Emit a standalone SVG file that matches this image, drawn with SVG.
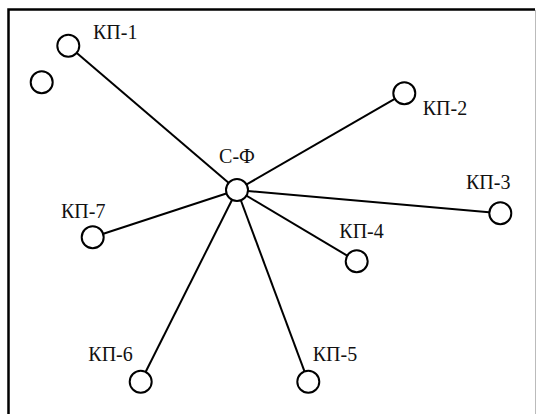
<svg xmlns="http://www.w3.org/2000/svg" width="536" height="414" viewBox="0 0 536 414">
<style>
.n{fill:#fff;stroke:#000;stroke-width:2}
.e{stroke:#000;stroke-width:2;fill:none}
.t{font-family:'Liberation Serif','Times New Roman',serif;font-size:20px;fill:#111}
</style>
<rect width="536" height="414" fill="#fff"/>
<path d="M8.5,420 V9.5 H535" stroke="#000" stroke-width="2.5" fill="none"/>
<line x1="535.5" y1="10" x2="535.5" y2="414" stroke="#bbb" stroke-width="1"/>
<g id="edges">
<line class="e" x1="237" y1="190" x2="68.3" y2="45.7"/>
<line class="e" x1="237" y1="190" x2="404.3" y2="93.3"/>
<line class="e" x1="237" y1="190" x2="500.3" y2="213.3"/>
<line class="e" x1="237" y1="190" x2="356.7" y2="261.3"/>
<line class="e" x1="237" y1="190" x2="308.3" y2="381.7"/>
<line class="e" x1="237" y1="190" x2="140.7" y2="381.7"/>
<line class="e" x1="237" y1="190" x2="92.7" y2="237.3"/>
</g>
<g id="cf"><circle class="n" cx="237" cy="190" r="11"/><text class="t" x="237" y="163" text-anchor="middle">С-Ф</text></g>
<g id="kp1"><circle class="n" cx="68.3" cy="45.7" r="11"/><text class="t" x="93" y="39">КП-1</text></g>
<g id="extra"><circle class="n" cx="41.7" cy="82.3" r="11"/></g>
<g id="kp2"><circle class="n" cx="404.3" cy="93.3" r="11"/><text class="t" x="422.7" y="115">КП-2</text></g>
<g id="kp3"><circle class="n" cx="500.3" cy="213.3" r="11"/><text class="t" x="466" y="189.3">КП-3</text></g>
<g id="kp4"><circle class="n" cx="356.7" cy="261.3" r="11"/><text class="t" x="339.3" y="238">КП-4</text></g>
<g id="kp5"><circle class="n" cx="308.3" cy="381.7" r="11"/><text class="t" x="312.7" y="361.3">КП-5</text></g>
<g id="kp6"><circle class="n" cx="140.7" cy="381.7" r="11"/><text class="t" x="88.3" y="361.3">КП-6</text></g>
<g id="kp7"><circle class="n" cx="92.7" cy="237.3" r="11"/><text class="t" x="61" y="218">КП-7</text></g>
</svg>
